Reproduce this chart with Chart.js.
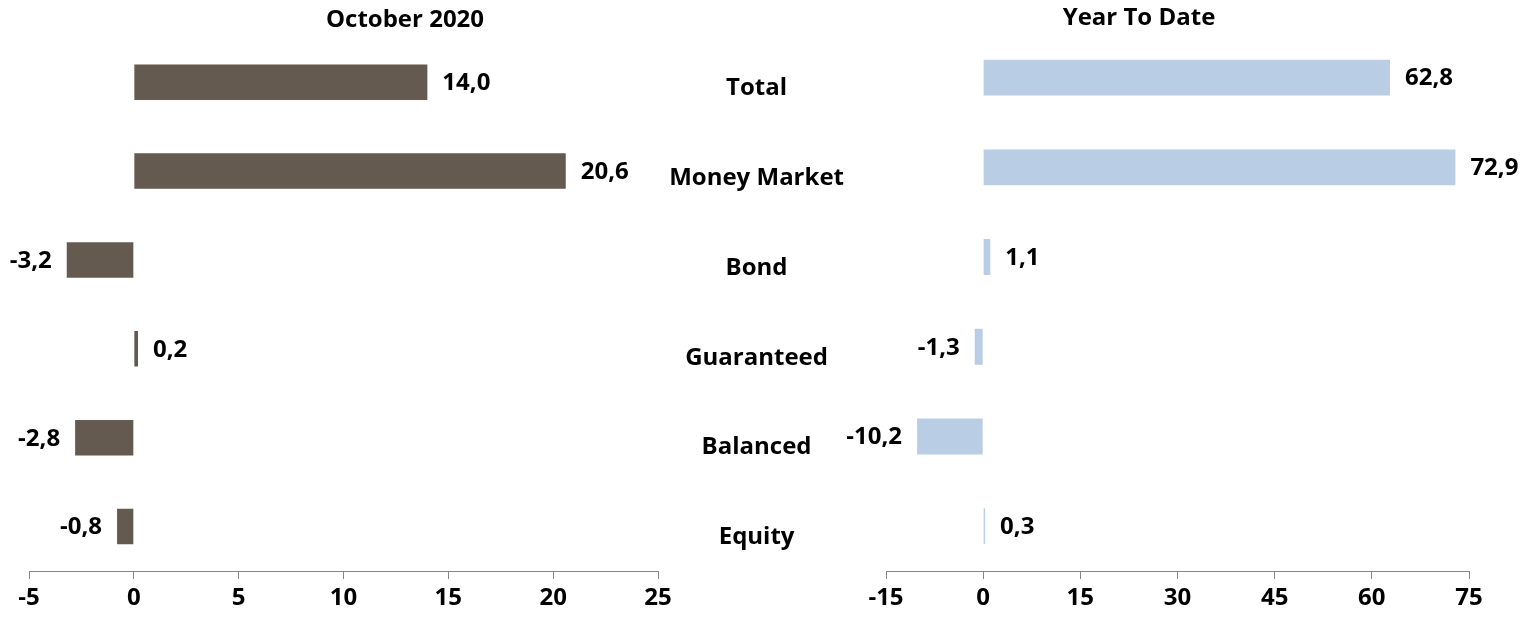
<!DOCTYPE html>
<html>
<head>
<meta charset="utf-8">
<script src="https://cdn.jsdelivr.net/npm/chart.js@4"></script>
<style>
  html, body { margin: 0; padding: 0; background: #fff; overflow: hidden; }
  body { width: 1523px; height: 617px; position: relative; }
  #leftBox { position: absolute; left: 0; top: 0; width: 810px; height: 617px; }
  #rightBox { position: absolute; left: 640px; top: 0; width: 998px; height: 617px; }
</style>
</head>
<body>
<div id="leftBox"><canvas id="month_chart"></canvas></div>
<div id="rightBox"><canvas id="ytd_chart"></canvas></div>
<script>
var categories = ['Total', 'Money Market', 'Bond', 'Guaranteed', 'Balanced', 'Equity'];
var monthValues = [14.0, 20.6, -3.2, 0.2, -2.8, -0.8];
var ytdValues = [62.8, 72.9, 1.1, -1.3, -10.2, 0.3];
var monthTicks = { min: -5, max: 25, step: 5 };
var ytdTicks = { min: -15, max: 75, step: 15 };

var fontFamily = '"Open Sans", Lato, sans-serif';
Chart.defaults.font.family = fontFamily;
Chart.defaults.font.weight = 'bold';
Chart.defaults.font.size = 24;
Chart.defaults.color = '#000';

var axisGrey = '#868686';

// value labels next to the bar ends
var valueLabels = {
  id: 'valueLabels',
  afterDatasetsDraw: function(chart) {
    var ctx = chart.ctx;
    var meta = chart.getDatasetMeta(0);
    var data = chart.data.datasets[0].data;
    ctx.save();
    ctx.font = 'bold 24px ' + fontFamily;
    ctx.fillStyle = '#000';
    ctx.textBaseline = 'middle';
    meta.data.forEach(function(bar, i) {
      var v = data[i];
      var txt = v.toFixed(1).replace('.', ',');
      if (v >= 0) {
        ctx.textAlign = 'left';
        ctx.fillText(txt, bar.x + 15, bar.y + 1);
      } else {
        ctx.textAlign = 'right';
        ctx.fillText(txt, bar.x - 15, bar.y + 1);
      }
    });
    ctx.restore();
  }
};

function xScale(t) {
  return {
    min: t.min,
    max: t.max,
    afterFit: function(scale) { scale.height = 46; },
    ticks: { stepSize: t.step, padding: 5, color: '#000' },
    grid: { drawOnChartArea: false, drawTicks: true, tickLength: 8, color: axisGrey },
    border: { display: true, color: axisGrey, width: 1 }
  };
}

// empty side axis used as a spacer
function spacer(pos, w) {
  return {
    type: 'category',
    position: pos,
    afterFit: function(scale) { scale.width = w; scale.paddingTop = 0; scale.paddingBottom = 0; },
    ticks: { display: false },
    grid: { display: false, drawTicks: false },
    border: { display: false }
  };
}

var monthChart = new Chart('month_chart', {
  type: 'bar',
  plugins: [valueLabels],
  data: {
    labels: categories,
    datasets: [{
      data: monthValues,
      backgroundColor: '#655a4f',
      barPercentage: 0.4,
      categoryPercentage: 1
    }]
  },
  options: {
    indexAxis: 'y',
    responsive: true,
    maintainAspectRatio: false,
    animation: false,
    layout: { autoPadding: false, padding: 0 },
    plugins: {
      legend: { display: false },
      tooltip: { enabled: false },
      title: {
        display: true,
        text: 'October 2020',
        font: { size: 24, weight: 'bold' },
        color: '#000',
        padding: { top: 6, bottom: 3 }
      }
    },
    scales: {
      x: xScale(monthTicks),
      y: spacer('left', 29),
      yr: spacer('right', 152)
    }
  }
});

var ytdChart = new Chart('ytd_chart', {
  type: 'bar',
  plugins: [valueLabels],
  data: {
    labels: categories,
    datasets: [{
      data: ytdValues,
      backgroundColor: '#b9cde4',
      barPercentage: 0.4,
      categoryPercentage: 1
    }]
  },
  options: {
    indexAxis: 'y',
    responsive: true,
    maintainAspectRatio: false,
    animation: false,
    layout: { autoPadding: false, padding: 0 },
    plugins: {
      legend: { display: false },
      tooltip: { enabled: false },
      title: {
        display: true,
        text: 'Year To Date',
        font: { size: 24, weight: 'bold' },
        color: '#000',
        padding: { top: 4, bottom: 0 }
      }
    },
    scales: {
      x: xScale(ytdTicks),
      y: {
        afterFit: function(scale) { scale.width = 246; scale.paddingTop = 0; scale.paddingBottom = 0; },
        ticks: { crossAlign: 'center', padding: 42, labelOffset: 11, color: '#000' },
        grid: { display: false, drawTicks: false },
        border: { display: false }
      },
      yr: spacer('right', 169)
    }
  }
});
</script>
</body>
</html>
